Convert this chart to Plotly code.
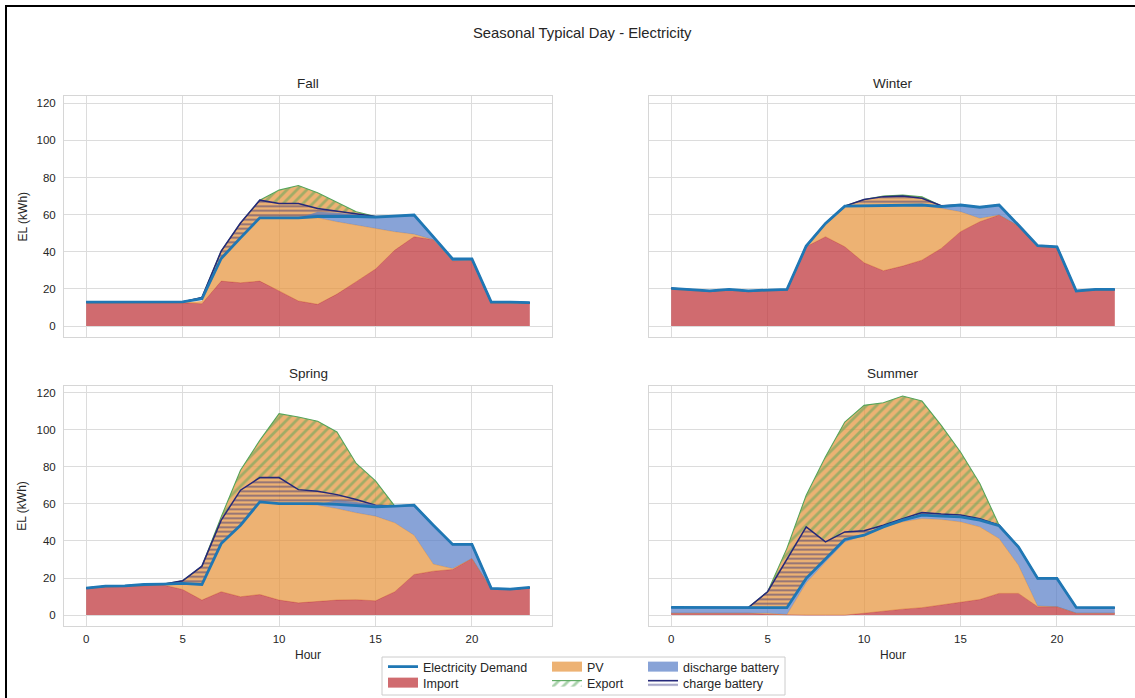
import plotly.graph_objects as go

W, H = 1135, 698
hours = list(range(24))

# ---- hourly energy flows per season (kWh) ----
fall_demand = [12.9, 13.0, 12.9, 12.9, 12.9, 13.0, 14.7, 36.4, 47.5, 58.3, 58.3, 58.3,
               59.0, 59.2, 59.0, 58.7, 59.2, 59.8, 48.0, 36.1, 36.1, 12.9, 12.9, 12.6]
fall_import = [12.4, 12.5, 12.4, 12.4, 12.4, 12.5, 12.0, 24.2, 23.3, 24.2, 18.9, 13.5,
               11.7, 17.2, 23.9, 30.7, 40.9, 48.1, 46.5, 35.1, 35.6, 12.4, 12.4, 12.1]
fall_pv = [0, 0, 0, 0, 0, 0, 1.2, 12.2, 24.2, 34.1, 39.1, 44.5,
           46.6, 39.0, 30.5, 21.9, 9.9, 1.4, 0, 0, 0, 0, 0, 0]
fall_discharge = [0, 0, 0, 0, 0, 0, 0, 0, 0, 0, 0, 0,
                  3.2, 4.8, 5.6, 6.1, 8.4, 10.3, 1.5, 1.0, 0.5, 0, 0, 0]
fall_charge = [0, 0, 0, 0, 0, 0, 0.7, 4.0, 8.0, 9.5, 7.7, 7.7,
               4.3, 2.7, 1.6, 0.3, 0, 0, 0, 0, 0, 0, 0, 0]
fall_export = [0, 0, 0, 0, 0, 0, 0, 0, 0, 0, 7.2, 9.7,
               8.5, 4.8, 1.0, 0, 0, 0, 0, 0, 0, 0, 0, 0]

winter_demand = [20.3, 19.7, 18.9, 19.7, 18.9, 19.4, 19.7, 43.1, 55.3, 64.6, 64.8, 65.0,
                 65.0, 65.2, 64.3, 65.2, 64.0, 65.2, 54.4, 43.3, 42.7, 18.9, 19.7, 19.7]
winter_import = [19.9, 19.3, 18.5, 19.3, 18.5, 19.0, 19.3, 42.7, 48.1, 42.7, 34.1, 29.8,
                 32.3, 35.5, 41.8, 50.8, 56.2, 59.8, 53.9, 42.9, 42.3, 18.5, 19.3, 19.3]
winter_pv = [0, 0, 0, 0, 0, 0, 0, 0.4, 7.2, 21.9, 30.7, 35.2,
             32.7, 29.5, 21.6, 10.8, 1.8, 0, 0, 0, 0, 0, 0, 0]
winter_discharge = [0, 0, 0, 0, 0, 0, 0, 0, 0, 0, 0, 0,
                    0, 0.2, 0.9, 3.6, 6.0, 5.4, 0.5, 0, 0, 0, 0, 0]
winter_charge = [0, 0, 0, 0, 0, 0, 0, 0, 0, 0, 3.4, 4.7,
                 5.0, 3.6, 0.5, 0, 0, 0, 0, 0, 0, 0, 0, 0]
winter_export = [0, 0, 0, 0, 0, 0, 0, 0, 0, 0, 0, 0.3,
                 0.5, 0.8, 0, 0, 0, 0, 0, 0, 0, 0, 0, 0]

spring_demand = [14.6, 15.6, 15.8, 16.5, 16.7, 17.1, 16.5, 38.6, 48.5, 61.1, 60.2, 60.2,
                 60.2, 59.7, 59.1, 58.4, 58.8, 59.3, 48.5, 38.1, 38.1, 14.4, 14.0, 14.9]
spring_import = [14.3, 15.2, 15.5, 16.0, 16.2, 13.8, 8.1, 12.6, 9.9, 11.1, 8.1, 6.6,
                 7.5, 8.1, 8.3, 7.7, 12.6, 21.9, 23.7, 24.6, 30.5, 14.1, 13.7, 14.6]
spring_pv = [0, 0, 0, 0, 0, 2.9, 8.4, 26.0, 38.6, 50.0, 52.1, 53.2,
             51.8, 49.4, 46.9, 45.7, 37.2, 21.2, 3.8, 0.5, 0, 0, 0, 0]
spring_discharge = [0, 0, 0, 0, 0, 0, 0, 0, 0, 0, 0, 0,
                    0.5, 4.5, 5.8, 6.1, 9.0, 16.2, 21.0, 13.0, 7.6, 0, 0, 0]
spring_charge = [0, 0, 0, 0, 0, 1.4, 9.9, 12.6, 18.9, 13.1, 14.0, 7.5,
                 6.6, 5.3, 3.3, 0.9, 0, 0, 0, 0, 0, 0, 0, 0]
spring_export = [0, 0, 0, 0, 0, 0, 0, 1.8, 10.8, 20.1, 34.5, 39.2,
                 37.8, 33.8, 19.4, 13.1, 0, 0, 0, 0, 0, 0, 0, 0]

summer_demand = [4.1, 4.1, 4.1, 4.1, 4.1, 4.1, 4.0, 19.8, 30.5, 40.8, 43.1, 47.6,
                 51.2, 53.9, 53.4, 53.0, 51.2, 48.2, 36.8, 19.8, 19.8, 4.1, 4.0, 4.0]
summer_import = [1.0, 1.0, 1.0, 1.0, 1.0, 0.4, 0.0, 0.0, 0.0, 0.0, 1.0, 2.2,
                 3.2, 4.0, 5.4, 7.2, 8.4, 11.7, 11.7, 4.5, 4.5, 1.0, 1.0, 1.0]
summer_pv = [0, 0, 0, 0, 0, 0.6, 0.3, 17.4, 28.7, 39.5, 42.0, 45.4,
             47.1, 48.1, 46.2, 43.1, 39.2, 29.6, 15.3, 0.4, 0, 0, 0, 0]
summer_discharge = [3.1, 3.1, 3.1, 3.1, 3.1, 3.1, 3.7, 2.4, 1.8, 1.3, 0.1, 0,
                    0.9, 1.8, 1.8, 2.7, 3.6, 6.9, 9.8, 14.9, 15.3, 3.1, 3.0, 3.0]
summer_charge = [0, 0, 0, 0, 0, 8.5, 26.0, 27.8, 9.0, 4.1, 2.4, 0.9,
                 0.8, 1.4, 1.1, 1.0, 0.8, 0.3, 0, 0, 0, 0, 0, 0]
summer_export = [0, 0, 0, 0, 0, 0, 6.0, 17.1, 45.9, 59.3, 67.7, 66.1,
                 66.2, 60.2, 47.9, 34.0, 19.0, 0, 0, 0, 0, 0, 0, 0]

seasons = ["Fall", "Winter", "Spring", "Summer"]
season_data = {
    "Fall": (fall_demand, fall_import, fall_pv, fall_discharge, fall_charge, fall_export),
    "Winter": (winter_demand, winter_import, winter_pv, winter_discharge, winter_charge, winter_export),
    "Spring": (spring_demand, spring_import, spring_pv, spring_discharge, spring_charge, spring_export),
    "Summer": (summer_demand, summer_import, summer_pv, summer_discharge, summer_charge, summer_export),
}

# ---- styling ----
FONT = "Liberation Sans, Arial, Helvetica, sans-serif"
TXT = "#262626"
C_DEMAND = "#1f77b4"
C_IMPORT = "rgba(192,57,63,0.75)"
C_PV = "rgba(230,145,56,0.70)"
C_DIS = "rgba(86,124,198,0.70)"
C_EXPORT = "#55a55a"
C_CHARGE = "#25287a"
GRID = "#dcdcdc"


def px_x(p):
    return p / W


def px_y(p):
    return 1 - p / H


# subplot panels in pixels: (left, right, top, bottom)
panels = {
    "Fall": (64, 552, 96, 337),
    "Winter": (649, 1137, 96, 337),
    "Spring": (64, 552, 385.5, 626),
    "Summer": (649, 1137, 385.5, 626),
}
X_LO, X_HI = -1.15, 24.15
Y_RANGE = [-5.9, 123.9]

fig = go.Figure()
layout_axes = {}

for i, name in enumerate(seasons):
    k = i + 1
    xa, ya = f"x{k}" if k > 1 else "x", f"y{k}" if k > 1 else "y"
    demand, imp, pv, dis, chg, exp_ = season_data[name]
    first = (k == 1)

    base_pv = [a + b for a, b in zip(imp, pv)]
    top_dis = [a + b for a, b in zip(base_pv, dis)]
    top_chg = [a + b for a, b in zip(demand, chg)]
    top_exp = [a + b for a, b in zip(top_chg, exp_)]

    def band(lower, upper, **kw):
        fig.add_trace(go.Scatter(x=hours, y=lower, mode="lines", line=dict(width=0),
                                 showlegend=False, hoverinfo="skip", xaxis=xa, yaxis=ya))
        fig.add_trace(go.Scatter(x=hours, y=upper, mode="lines", fill="tonexty",
                                 xaxis=xa, yaxis=ya, **kw))

    # import from the grid
    fig.add_trace(go.Scatter(x=hours, y=imp, mode="lines", fill="tozeroy",
                             fillcolor=C_IMPORT, line=dict(color=C_IMPORT, width=0.8),
                             name="Import", showlegend=False, xaxis=xa, yaxis=ya))
    # PV used on site
    band(imp, base_pv, fillcolor=C_PV, line=dict(color=C_PV, width=0.8),
         name="PV", showlegend=False)
    # PV surplus sent to battery / grid
    band(demand, top_exp, fillcolor=C_PV, line=dict(width=0),
         showlegend=False, hoverinfo="skip")
    # export hatch
    band(top_chg, top_exp, fillcolor="rgba(0,0,0,0)",
         fillpattern=dict(shape="/", fgcolor=C_EXPORT, bgcolor="rgba(0,0,0,0)",
                          size=7, solidity=0.4),
         line=dict(color=C_EXPORT, width=1.1),
         name="Export", legend="legend4", showlegend=first)
    # battery charging hatch
    band(demand, top_chg, fillcolor="rgba(0,0,0,0)",
         fillpattern=dict(shape="-", fgcolor=C_CHARGE, bgcolor="rgba(0,0,0,0)",
                          size=4.5, solidity=0.4),
         line=dict(color=C_CHARGE, width=1.5),
         name="charge battery", legend="legend6", showlegend=first)
    # battery discharge
    band(base_pv, top_dis, fillcolor=C_DIS, line=dict(width=0),
         name="discharge battery", showlegend=False)
    # demand
    fig.add_trace(go.Scatter(x=hours, y=demand, mode="lines",
                             line=dict(color=C_DEMAND, width=2.8),
                             name="Electricity Demand", legend="legend", showlegend=first,
                             xaxis=xa, yaxis=ya))

    left, right, top, bottom = panels[name]
    span = (right - left) / (X_HI - X_LO)
    x_hi = X_HI - max(0, right - W) / span
    dom_x = [px_x(left), min(1.0, px_x(right))]
    dom_y = [px_y(bottom), px_y(top)]
    is_left = name in ("Fall", "Spring")
    is_bottom = name in ("Spring", "Summer")
    axkey = "" if k == 1 else str(k)
    layout_axes[f"xaxis{axkey}"] = dict(
        domain=dom_x, range=[X_LO, x_hi], tickvals=[0, 5, 10, 15, 20],
        showticklabels=is_bottom, ticks="", showgrid=True, gridcolor=GRID, gridwidth=1,
        zeroline=False, showline=True, mirror=True, linecolor="#d6d6d6", linewidth=1,
        tickfont=dict(family=FONT, size=11.5, color=TXT), ticklabelstandoff=2,
        anchor=ya,
    )
    layout_axes[f"yaxis{axkey}"] = dict(
        domain=dom_y, range=Y_RANGE, tickvals=[0, 20, 40, 60, 80, 100, 120],
        showticklabels=is_left, ticks="", showgrid=True, gridcolor=GRID, gridwidth=1,
        zeroline=False, showline=True, mirror=True, linecolor="#d6d6d6", linewidth=1,
        tickfont=dict(family=FONT, size=11.5, color=TXT), ticklabelstandoff=5,
        anchor=xa,
    )

# legend swatches for the solid areas (no data, legend entries only)
for label, color, leg in [("Import", C_IMPORT, "legend2"), ("PV", C_PV, "legend3"),
                          ("discharge battery", C_DIS, "legend5")]:
    fig.add_trace(go.Scatter(x=[None], y=[None], mode="lines", name=label,
                             line=dict(color=color, width=10), legend=leg,
                             hoverinfo="skip"))

annotations = [
    dict(text="Seasonal Typical Day - Electricity", x=px_x(582.5), y=px_y(33),
         font=dict(size=14.8, family=FONT, color=TXT)),
]
for name, (left, right, top, bottom) in panels.items():
    cx = (left + right) / 2
    annotations.append(dict(text=name, x=px_x(cx), y=px_y(top - 12),
                            font=dict(size=13.5, family=FONT, color=TXT)))
    if name in ("Spring", "Summer"):
        annotations.append(dict(text="Hour", x=px_x(cx), y=px_y(655),
                                font=dict(size=12, family=FONT, color=TXT)))
    if name in ("Fall", "Spring"):
        annotations.append(dict(text="EL (kWh)", x=px_x(22), y=px_y((top + bottom) / 2),
                                textangle=-90, font=dict(size=12, family=FONT, color=TXT)))
for a in annotations:
    a.update(xref="paper", yref="paper", showarrow=False, xanchor="center", yanchor="middle")

# legend box and figure frame
L_LEFT, L_RIGHT, L_TOP, L_BOT = 382, 785, 657, 695
shapes = [
    dict(type="rect", xref="paper", yref="paper",
         x0=px_x(L_LEFT), x1=px_x(L_RIGHT), y0=px_y(L_BOT), y1=px_y(L_TOP),
         line=dict(color="#cccccc", width=1), fillcolor="white", layer="above"),
    dict(type="path", xref="paper", yref="paper",
         path=f"M {px_x(6)},{-0.02} L {px_x(6)},{px_y(6)} L 1.02,{px_y(6)}",
         line=dict(color="black", width=2)),
]

legend_cols = [387, 551, 647]
legend_rows = [667, 683]
legend_slots = {
    "legend": (0, 0), "legend2": (0, 1),
    "legend3": (1, 0), "legend4": (1, 1),
    "legend5": (2, 0), "legend6": (2, 1),
}
legends = {}
for key, (c, r) in legend_slots.items():
    legends[key] = dict(
        x=px_x(legend_cols[c] - 4), y=px_y(legend_rows[r]), xanchor="left", yanchor="middle",
        xref="paper", yref="paper", bgcolor="rgba(0,0,0,0)", borderwidth=0,
        font=dict(family=FONT, size=12.5, color=TXT), itemwidth=30,
    )

fig.update_layout(
    width=W, height=H, margin=dict(l=0, r=0, t=0, b=0),
    paper_bgcolor="white", plot_bgcolor="white",
    annotations=annotations, shapes=shapes, **layout_axes, **legends,
)

fig.write_html("out.html")
